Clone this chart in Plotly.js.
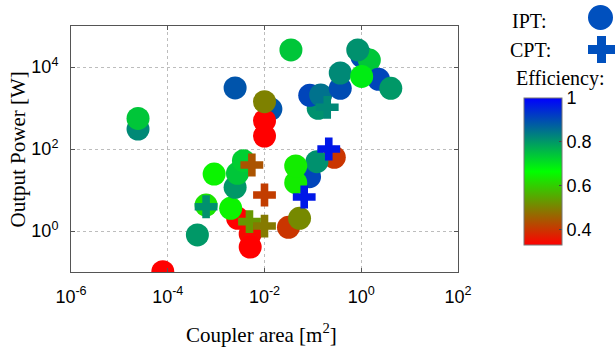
<!DOCTYPE html>
<html>
<head>
<meta charset="utf-8">
<script src="https://cdn.plot.ly/plotly-3.0.1.min.js"></script>
<style>html,body{margin:0;padding:0;background:#fff;}#chart{width:615px;height:348px;}</style>
</head>
<body>
<div id="chart"></div>
<script>
// IPT (circles): coupler area [m^2], output power [W], efficiency
const iptArea  = [2.43e-5, 2.43e-5, 2.47e-3, 0.0352, 0.01355, 0.01, 0.01, 0.01,
                  9.1e-4, 6.2e-4, 4.1e-4, 7.9e-5, 2.79e-3, 2.0e-3, 2.47e-3, 2.76e-3, 3.67e-3,
                  5.06e-3, 5.06e-3, 0.0313, 0.053, 0.0853, 0.277, 0.121, 0.0442, 0.0442,
                  0.129, 0.0861, 0.145, 0.368, 0.368, 1.035, 1.47, 0.847, 2.28, 1.02, 4.08];
const iptPower = [307, 555, 3076, 26000, 945, 490, 207, 1425,
                  24.5, 4.3, 0.80, 0.102, 2.04, 3.58, 11.6, 25.5, 51.9,
                  0.845, 0.407, 1.23, 2.04, 21.1, 62.8, 49, 15.1, 38.5,
                  984, 2040, 2075, 3020, 7140, 17800, 14800, 26000, 5010, 5870, 3020];
const iptEff   = [0.82, 0.74, 0.89, 0.74, 0.89, 0.33, 0.33, 0.50,
                  0.65, 0.63, 0.80, 0.33, 0.33, 0.65, 0.80, 0.74, 0.73,
                  0.34, 0.33, 0.40, 0.51, 0.91, 0.40, 0.81, 0.64, 0.64,
                  0.81, 0.91, 0.85, 0.90, 0.82, 0.90, 0.74, 0.81, 0.91, 0.69, 0.80];

// CPT (crosses)
const cptArea  = [6.2e-4, 5.48e-3, 0.01, 4.89e-3, 0.01, 0.0662, 0.213, 0.198];
const cptPower = [3.9, 40.7, 7.55, 1.69, 1.32, 6.75, 100, 1040];
const cptEff   = [0.81, 0.44, 0.41, 0.53, 0.49, 0.97, 0.97, 0.82];

// Axis ticks
const xTickVals = [1e-6, 1e-4, 1e-2, 1, 1e2];
const xTickText = ['10<sup>-6</sup>', '10<sup>-4</sup>', '10<sup>-2</sup>', '10<sup>0</sup>', '10<sup>2</sup>'];
const yTickVals = [1, 1e2, 1e4];
const yTickText = ['10<sup>0</sup>', '10<sup>2</sup>', '10<sup>4</sup>'];
const cbTickVals = [0.4, 0.6, 0.8, 1];
const cbTickText = ['0.4', '0.6', '0.8', '1'];

const effScale = [[0, 'rgb(255,0,0)'], [0.5, 'rgb(0,255,0)'], [1, 'rgb(0,0,255)']];
const cmin = 0.33, cmax = 1.0;
const sansFont = 'Liberation Sans, Arial, sans-serif';
const serifFont = 'Liberation Serif, Times New Roman, serif';

const W = 615, H = 348, L = 71, R = 157, T = 26, B = 76;
const pw = W - L - R, ph = H - T - B;
const px = v => (v - L) / pw;
const py = v => (H - B - v) / ph;

const traces = [
  {
    type: 'scatter', mode: 'markers', name: 'IPT',
    x: iptArea, y: iptPower,
    marker: {
      symbol: 'circle', size: 23, color: iptEff, colorscale: effScale,
      cmin: cmin, cmax: cmax, line: {width: 0}, opacity: 1,
      showscale: true,
      colorbar: {
        x: px(524), xanchor: 'left', xpad: 0,
        y: py(171.5), yanchor: 'middle', ypad: 0,
        thickness: 38, thicknessmode: 'pixels',
        len: 147, lenmode: 'pixels',
        outlinewidth: 1, outlinecolor: '#777', borderwidth: 0,
        tickvals: cbTickVals, ticktext: cbTickText,
        ticks: 'inside', ticklen: 3, tickcolor: '#444',
        tickfont: {family: sansFont, size: 18, color: '#000'}
      }
    },
    hoverinfo: 'skip'
  },
  {
    type: 'scatter', mode: 'markers', name: 'CPT',
    x: cptArea, y: cptPower,
    marker: {
      symbol: 'cross', size: 19, color: cptEff, colorscale: effScale,
      cmin: cmin, cmax: cmax, line: {width: 0}, showscale: false
    },
    hoverinfo: 'skip'
  }
];

const axisCommon = {
  type: 'log', showline: true, mirror: 'ticks', linecolor: '#555', linewidth: 1,
  ticks: 'inside', ticklen: 4, tickcolor: '#555',
  showgrid: true, gridcolor: '#bdbdbd', griddash: 'dot', gridwidth: 1,
  zeroline: false, tickfont: {family: sansFont, size: 18, color: '#000'}
};

const layout = {
  width: W, height: H,
  margin: {l: L, r: R, t: T, b: B, pad: 0},
  paper_bgcolor: '#fff', plot_bgcolor: '#fff',
  showlegend: false,
  xaxis: Object.assign({}, axisCommon, {
    range: [-6, 2], tickvals: xTickVals, ticktext: xTickText, ticklabelstandoff: 8
  }),
  yaxis: Object.assign({}, axisCommon, {
    range: [-1, 5], tickvals: yTickVals, ticktext: yTickText, ticklabelstandoff: 8
  }),
  annotations: [
    {text: 'Coupler area [m<sup>2</sup>]', xref: 'paper', yref: 'paper', x: px(261.5), y: py(333),
     xanchor: 'center', yanchor: 'middle', showarrow: false, font: {family: serifFont, size: 21, color: '#000'}},
    {text: 'Output Power [W]', xref: 'paper', yref: 'paper', x: px(17.5), y: py(150),
     xanchor: 'center', yanchor: 'middle', textangle: -90, showarrow: false, font: {family: serifFont, size: 21, color: '#000'}},
    {text: 'IPT:', xref: 'paper', yref: 'paper', x: px(549), y: py(21),
     xanchor: 'right', yanchor: 'middle', showarrow: false, font: {family: serifFont, size: 20, color: '#000'}},
    {text: 'CPT:', xref: 'paper', yref: 'paper', x: px(553), y: py(50),
     xanchor: 'right', yanchor: 'middle', showarrow: false, font: {family: serifFont, size: 20, color: '#000'}},
    {text: 'Efficiency:', xref: 'paper', yref: 'paper', x: px(560), y: py(78),
     xanchor: 'center', yanchor: 'middle', showarrow: false, font: {family: serifFont, size: 20, color: '#000'}}
  ],
  shapes: [
    {type: 'circle', xref: 'paper', yref: 'paper', xsizemode: 'pixel', ysizemode: 'pixel',
     xanchor: px(600.5), yanchor: py(17.5), x0: -12.5, x1: 12.5, y0: -12.5, y1: 12.5,
     fillcolor: '#0050be', line: {width: 0}},
    {type: 'path', xref: 'paper', yref: 'paper', xsizemode: 'pixel', ysizemode: 'pixel',
     xanchor: px(601.5), yanchor: py(49.5),
     path: 'M -4.5 -13.5 L 4.5 -13.5 L 4.5 -4.5 L 13.5 -4.5 L 13.5 4.5 L 4.5 4.5 L 4.5 13.5 L -4.5 13.5 L -4.5 4.5 L -13.5 4.5 L -13.5 -4.5 L -4.5 -4.5 Z',
     fillcolor: '#0050be', line: {width: 0}}
  ]
};

Plotly.newPlot('chart', traces, layout, {staticPlot: true, displayModeBar: false});
</script>
</body>
</html>
